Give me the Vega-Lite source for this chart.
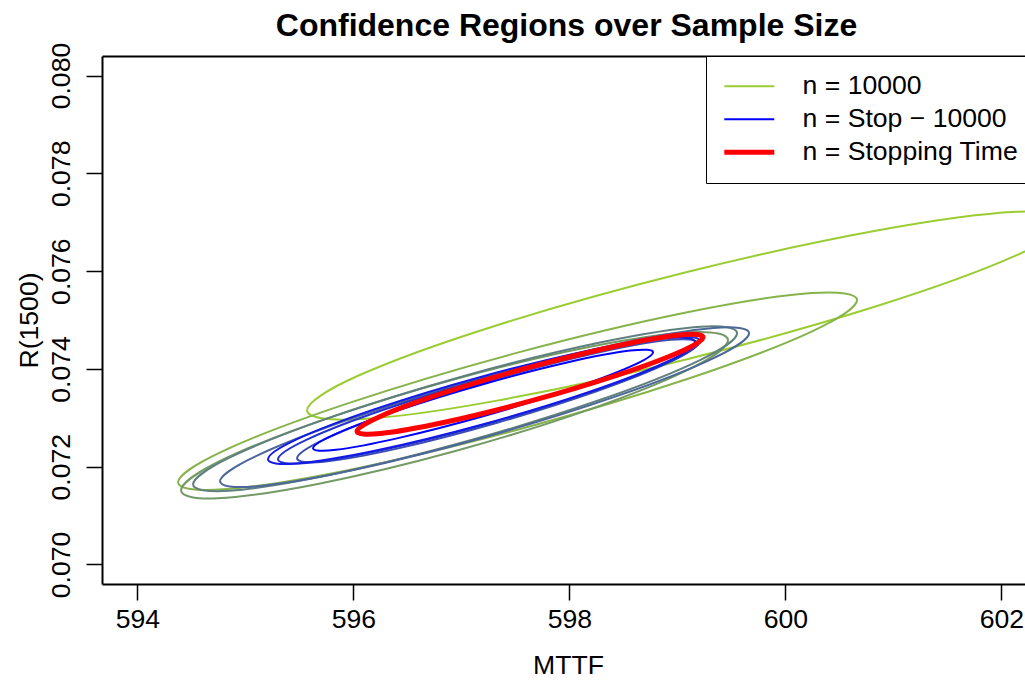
{
"$schema": "https://vega.github.io/schema/vega-lite/v6.json",
"width": 923, "height": 528,
"autosize": {"type": "none"},
"padding": {"left": 102, "top": 56, "right": 0, "bottom": 98},
"background": "white",
"config": {"view": {"stroke": null}, "font": "Liberation Sans"},
"title": {"text": "Confidence Regions over Sample Size", "font": "Liberation Sans", "fontSize": 32, "fontWeight": "bold", "color": "black", "anchor": "middle", "frame": "group", "offset": -26, "baseline": "alphabetic", "dx": 3},
"data": {"values": [
{"set":"n = 10000","k":0,"mttf":602.609,"r1500":0.077026},
{"set":"n = 10000","k":1,"mttf":602.137,"r1500":0.077212},
{"set":"n = 10000","k":2,"mttf":600.849,"r1500":0.076829},
{"set":"n = 10000","k":3,"mttf":599.090,"r1500":0.075981},
{"set":"n = 10000","k":4,"mttf":597.331,"r1500":0.074894},
{"set":"n = 10000","k":5,"mttf":596.043,"r1500":0.073859},
{"set":"n = 10000","k":6,"mttf":595.572,"r1500":0.073155},
{"set":"n = 10000","k":7,"mttf":596.043,"r1500":0.072968},
{"set":"n = 10000","k":8,"mttf":597.331,"r1500":0.073351},
{"set":"n = 10000","k":9,"mttf":599.090,"r1500":0.074199},
{"set":"n = 10000","k":10,"mttf":600.849,"r1500":0.075286},
{"set":"n = 10000","k":11,"mttf":602.137,"r1500":0.076321},
{"set":"g2","k":0,"mttf":600.664,"r1500":0.075407},
{"set":"g2","k":1,"mttf":600.243,"r1500":0.075551},
{"set":"g2","k":2,"mttf":599.092,"r1500":0.075158},
{"set":"g2","k":3,"mttf":597.521,"r1500":0.074332},
{"set":"g2","k":4,"mttf":595.949,"r1500":0.073294},
{"set":"g2","k":5,"mttf":594.798,"r1500":0.072324},
{"set":"g2","k":6,"mttf":594.377,"r1500":0.071680},
{"set":"g2","k":7,"mttf":594.798,"r1500":0.071536},
{"set":"g2","k":8,"mttf":595.949,"r1500":0.071929},
{"set":"g2","k":9,"mttf":597.521,"r1500":0.072756},
{"set":"g2","k":10,"mttf":599.092,"r1500":0.073793},
{"set":"g2","k":11,"mttf":600.243,"r1500":0.074763},
{"set":"g3","k":0,"mttf":599.469,"r1500":0.074588},
{"set":"g3","k":1,"mttf":599.130,"r1500":0.074751},
{"set":"g3","k":2,"mttf":598.203,"r1500":0.074458},
{"set":"g3","k":3,"mttf":596.937,"r1500":0.073789},
{"set":"g3","k":4,"mttf":595.671,"r1500":0.072922},
{"set":"g3","k":5,"mttf":594.744,"r1500":0.072090},
{"set":"g3","k":6,"mttf":594.405,"r1500":0.071516},
{"set":"g3","k":7,"mttf":594.744,"r1500":0.071353},
{"set":"g3","k":8,"mttf":595.671,"r1500":0.071646},
{"set":"g3","k":9,"mttf":596.937,"r1500":0.072315},
{"set":"g3","k":10,"mttf":598.203,"r1500":0.073182},
{"set":"g3","k":11,"mttf":599.130,"r1500":0.074014},
{"set":"g4","k":0,"mttf":599.553,"r1500":0.074731},
{"set":"g4","k":1,"mttf":599.215,"r1500":0.074862},
{"set":"g4","k":2,"mttf":598.294,"r1500":0.074543},
{"set":"g4","k":3,"mttf":597.034,"r1500":0.073861},
{"set":"g4","k":4,"mttf":595.775,"r1500":0.072997},
{"set":"g4","k":5,"mttf":594.853,"r1500":0.072184},
{"set":"g4","k":6,"mttf":594.516,"r1500":0.071639},
{"set":"g4","k":7,"mttf":594.853,"r1500":0.071508},
{"set":"g4","k":8,"mttf":595.775,"r1500":0.071827},
{"set":"g4","k":9,"mttf":597.034,"r1500":0.072509},
{"set":"g4","k":10,"mttf":598.294,"r1500":0.073373},
{"set":"g4","k":11,"mttf":599.215,"r1500":0.074186},
{"set":"g5","k":0,"mttf":599.664,"r1500":0.074731},
{"set":"g5","k":1,"mttf":599.336,"r1500":0.074835},
{"set":"g5","k":2,"mttf":598.439,"r1500":0.074505},
{"set":"g5","k":3,"mttf":597.215,"r1500":0.073830},
{"set":"g5","k":4,"mttf":595.990,"r1500":0.072989},
{"set":"g5","k":5,"mttf":595.094,"r1500":0.072210},
{"set":"g5","k":6,"mttf":594.766,"r1500":0.071700},
{"set":"g5","k":7,"mttf":595.094,"r1500":0.071596},
{"set":"g5","k":8,"mttf":595.990,"r1500":0.071926},
{"set":"g5","k":9,"mttf":597.215,"r1500":0.072602},
{"set":"g5","k":10,"mttf":598.439,"r1500":0.073442},
{"set":"g5","k":11,"mttf":599.336,"r1500":0.074221},
{"set":"g6","k":0,"mttf":599.182,"r1500":0.074526},
{"set":"g6","k":1,"mttf":598.934,"r1500":0.074594},
{"set":"g6","k":2,"mttf":598.257,"r1500":0.074328},
{"set":"g6","k":3,"mttf":597.331,"r1500":0.073800},
{"set":"g6","k":4,"mttf":596.405,"r1500":0.073150},
{"set":"g6","k":5,"mttf":595.727,"r1500":0.072554},
{"set":"g6","k":6,"mttf":595.479,"r1500":0.072171},
{"set":"g6","k":7,"mttf":595.727,"r1500":0.072103},
{"set":"g6","k":8,"mttf":596.405,"r1500":0.072369},
{"set":"g6","k":9,"mttf":597.331,"r1500":0.072898},
{"set":"g6","k":10,"mttf":598.257,"r1500":0.073547},
{"set":"g6","k":11,"mttf":598.934,"r1500":0.074143},
{"set":"g7","k":0,"mttf":599.210,"r1500":0.074567},
{"set":"g7","k":1,"mttf":598.948,"r1500":0.074641},
{"set":"g7","k":2,"mttf":598.233,"r1500":0.074371},
{"set":"g7","k":3,"mttf":597.257,"r1500":0.073830},
{"set":"g7","k":4,"mttf":596.280,"r1500":0.073163},
{"set":"g7","k":5,"mttf":595.565,"r1500":0.072548},
{"set":"g7","k":6,"mttf":595.303,"r1500":0.072151},
{"set":"g7","k":7,"mttf":595.565,"r1500":0.072077},
{"set":"g7","k":8,"mttf":596.280,"r1500":0.072347},
{"set":"g7","k":9,"mttf":597.257,"r1500":0.072888},
{"set":"g7","k":10,"mttf":598.233,"r1500":0.073555},
{"set":"g7","k":11,"mttf":598.948,"r1500":0.074170},
{"set":"g8","k":0,"mttf":599.164,"r1500":0.074547},
{"set":"g8","k":1,"mttf":598.899,"r1500":0.074633},
{"set":"g8","k":2,"mttf":598.176,"r1500":0.074374},
{"set":"g8","k":3,"mttf":597.187,"r1500":0.073841},
{"set":"g8","k":4,"mttf":596.199,"r1500":0.073176},
{"set":"g8","k":5,"mttf":595.475,"r1500":0.072558},
{"set":"g8","k":6,"mttf":595.210,"r1500":0.072151},
{"set":"g8","k":7,"mttf":595.475,"r1500":0.072066},
{"set":"g8","k":8,"mttf":596.199,"r1500":0.072324},
{"set":"g8","k":9,"mttf":597.187,"r1500":0.072857},
{"set":"g8","k":10,"mttf":598.176,"r1500":0.073522},
{"set":"g8","k":11,"mttf":598.899,"r1500":0.074141},
{"set":"n = Stop − 10000","k":0,"mttf":598.775,"r1500":0.074342},
{"set":"n = Stop − 10000","k":1,"mttf":598.564,"r1500":0.074374},
{"set":"n = Stop − 10000","k":2,"mttf":597.988,"r1500":0.074135},
{"set":"n = Stop − 10000","k":3,"mttf":597.201,"r1500":0.073687},
{"set":"n = Stop − 10000","k":4,"mttf":596.414,"r1500":0.073152},
{"set":"n = Stop − 10000","k":5,"mttf":595.838,"r1500":0.072672},
{"set":"n = Stop − 10000","k":6,"mttf":595.627,"r1500":0.072376},
{"set":"n = Stop − 10000","k":7,"mttf":595.838,"r1500":0.072344},
{"set":"n = Stop − 10000","k":8,"mttf":596.414,"r1500":0.072584},
{"set":"n = Stop − 10000","k":9,"mttf":597.201,"r1500":0.073031},
{"set":"n = Stop − 10000","k":10,"mttf":597.988,"r1500":0.073567},
{"set":"n = Stop − 10000","k":11,"mttf":598.564,"r1500":0.074046},
{"set":"n = Stopping Time","k":0,"mttf":599.238,"r1500":0.074649},
{"set":"n = Stopping Time","k":1,"mttf":599.023,"r1500":0.074694},
{"set":"n = Stopping Time","k":2,"mttf":598.437,"r1500":0.074469},
{"set":"n = Stopping Time","k":3,"mttf":597.636,"r1500":0.074035},
{"set":"n = Stopping Time","k":4,"mttf":596.835,"r1500":0.073507},
{"set":"n = Stopping Time","k":5,"mttf":596.249,"r1500":0.073027},
{"set":"n = Stopping Time","k":6,"mttf":596.034,"r1500":0.072724},
{"set":"n = Stopping Time","k":7,"mttf":596.249,"r1500":0.072679},
{"set":"n = Stopping Time","k":8,"mttf":596.835,"r1500":0.072904},
{"set":"n = Stopping Time","k":9,"mttf":597.636,"r1500":0.073339},
{"set":"n = Stopping Time","k":10,"mttf":598.437,"r1500":0.073867},
{"set":"n = Stopping Time","k":11,"mttf":599.023,"r1500":0.074346}
]},
"encoding": {
  "y": {"field": "r1500", "type": "quantitative",
    "scale": {"domain": [0.0696, 0.0804], "nice": false, "zero": false},
    "axis": {"values": [0.070, 0.072, 0.074, 0.076, 0.078, 0.080], "format": ".3f", "grid": false,
      "tickSize": 16, "tickWidth": 1.5, "tickColor": "black", "domainColor": "black", "domainWidth": 2,
      "labelAngle": 270, "labelAlign": "center", "labelBaseline": "alphabetic", "labelPadding": 17,
      "labelFont": "Liberation Sans", "labelFontSize": 26.6, "labelColor": "black", "labelFlush": false, "labelOverlap": false,
      "title": "R(1500)", "titleFont": "Liberation Sans", "titleFontSize": 26.6, "titleFontWeight": "normal", "titleColor": "black",
      "titleAngle": 270, "titleX": -65, "titleY": 264, "titleBaseline": "alphabetic", "titleAlign": "center"}},
  "color": {"field": "set", "type": "nominal",
    "scale": {"domain": ["n = 10000","g2","g3","g4","g5","g6","g7","g8","n = Stop − 10000","n = Stopping Time"],
              "range": ["#9ACD32","#87B34C","#749A65","#60807F","#4D6799","#3A4DB2","#2733CC","#131AE5","#0000FF","#FF0000"]},
    "legend": {"title": null, "orient": "none", "legendX": 604, "legendY": 0,
      "values": ["n = 10000","n = Stop − 10000","n = Stopping Time"],
      "direction": "vertical", "padding": 17, "strokeColor": "black", "fillColor": "white",
      "symbolType": "stroke", "symbolSize": 2500, "symbolOffset": 13, "labelOffset": 40, "clipHeight": 26.5,
      "labelFont": "Liberation Sans", "labelFontSize": 26.6, "labelColor": "black", "labelLimit": 500, "rowPadding": 6,
      "encode": {"symbols": {"update": {"strokeWidth": {"signal": "datum.value === 'n = Stopping Time' ? 5 : 2"}}}}}},
  "order": {"field": "k", "type": "quantitative"}
},
"layer": [
  {"transform": [{"filter": "datum.set !== 'n = Stopping Time'"}],
   "mark": {"type": "line", "interpolate": "cardinal-closed", "clip": true, "strokeWidth": 2},
   "encoding": {"x": {"field": "mttf", "type": "quantitative",
     "scale": {"domain": [593.673, 602.219], "nice": false, "zero": false},
     "axis": {"orient": "bottom", "values": [594, 596, 598, 600, 602], "format": "d", "grid": false,
       "tickSize": 16, "tickWidth": 1.5, "tickColor": "black", "domainColor": "black", "domainWidth": 2,
       "labelFont": "Liberation Sans", "labelFontSize": 26.6, "labelColor": "black", "labelPadding": 6, "labelFlush": false, "labelOverlap": false,
       "title": "MTTF", "titleFont": "Liberation Sans", "titleFontSize": 26.6, "titleFontWeight": "normal", "titleColor": "black",
       "titleX": 466, "titleY": 89, "titleBaseline": "alphabetic", "titleAlign": "center"}}}},
  {"transform": [{"filter": "datum.set === 'n = Stopping Time'"}],
   "mark": {"type": "line", "interpolate": "cardinal-closed", "clip": true, "strokeWidth": 5},
   "encoding": {"x": {"field": "mttf", "type": "quantitative",
     "scale": {"domain": [593.673, 602.219], "nice": false, "zero": false},
     "axis": {"orient": "top", "labels": false, "ticks": false, "title": null, "grid": false, "domain": true, "domainColor": "black", "domainWidth": 2}}}}
],
"resolve": {"axis": {"x": "independent"}}
}
